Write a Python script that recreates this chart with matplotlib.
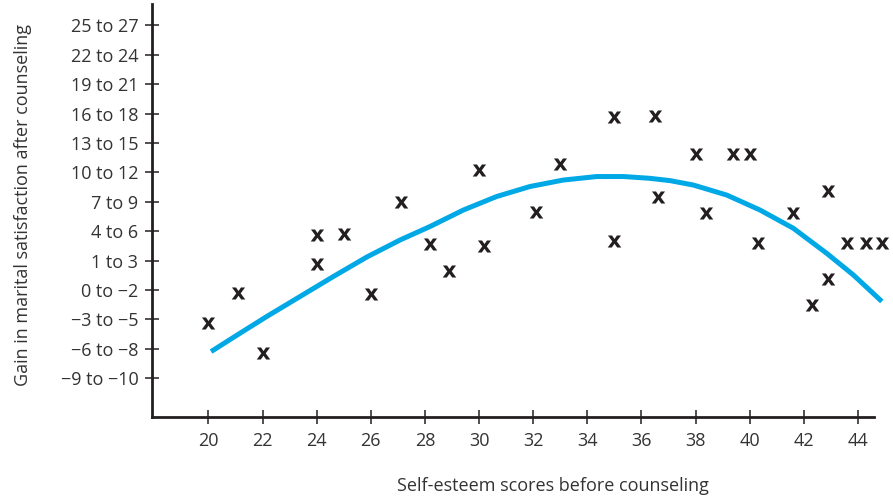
import matplotlib
matplotlib.use("Agg")
import matplotlib.pyplot as plt

# y categories (bottom -> top), plotted at positions 0..12
y_labels = ["\u22129 to \u221210", "\u22126 to \u22128", "\u22123 to \u22125", "0 to \u22122",
            "1 to 3", "4 to 6", "7 to 9", "10 to 12", "13 to 15", "16 to 18",
            "19 to 21", "22 to 24", "25 to 27"]
x_ticks = [20, 22, 24, 26, 28, 30, 32, 34, 36, 38, 40, 42, 44]

# scatter points (x score, y in category units)
pts_x = [20.0, 21.1, 22.0, 24.0, 25.0, 24.0, 26.0, 27.1, 28.2, 28.9, 30.0, 30.2,
         32.1, 33.0, 35.0, 36.5, 38.0, 39.4, 40.0, 36.6, 38.4, 35.0, 40.3, 41.6,
         42.9, 42.9, 42.3, 43.6, 44.3, 44.9]
pts_y = [1.87, 2.89, 0.85, 4.87, 4.90, 3.89, 2.87, 5.99, 4.56, 3.66, 7.09, 4.50,
         5.67, 7.29, 8.90, 8.92, 7.63, 7.63, 7.63, 6.16, 5.61, 4.65, 4.61, 5.61,
         6.38, 3.37, 2.49, 4.59, 4.59, 4.59]

# fitted curve
curve_x = [20.10, 21.17, 22.16, 23.39, 24.62, 25.85, 27.08, 28.19, 29.42, 30.65,
           31.88, 33.11, 34.35, 35.33, 36.3, 37.06, 37.92, 39.15, 40.38, 41.61,
           42.84, 43.83, 44.88]
curve_y = [0.905, 1.53, 2.10, 2.78, 3.46, 4.12, 4.70, 5.16, 5.72, 6.18,
           6.52, 6.74, 6.86, 6.86, 6.80, 6.72, 6.57, 6.23, 5.72, 5.10,
           4.25, 3.51, 2.61]

plt.rcParams["font.family"] = ["Open Sans", "DejaVu Sans"]

fig = plt.figure(figsize=(8.93, 4.98), dpi=100)
ax = fig.add_axes([0.1706, 0.1633, 0.8081, 0.8287])

ax.plot(curve_x, curve_y, color="#00A9E6", linewidth=3.6, solid_capstyle="butt",
        solid_joinstyle="round", clip_on=False, zorder=2)
ax.scatter(pts_x, pts_y, marker=r"$\mathbf{x}$", s=95, color="#231F20",
           linewidths=0, clip_on=False, zorder=3)

ax.set_xlim(17.93, 44.59)
ax.set_ylim(-1.31, 12.73)
ax.set_xticks(x_ticks)
ax.set_xticklabels([str(v) for v in x_ticks])
ax.set_yticks(range(len(y_labels)))
ax.set_yticklabels(y_labels)

for side in ("top", "right"):
    ax.spines[side].set_visible(False)
for side in ("left", "bottom"):
    ax.spines[side].set_linewidth(2.0)
    ax.spines[side].set_color("#231F20")

ax.tick_params(direction="inout", length=10, width=1.1, color="#231F20",
               labelsize=13, labelcolor="#333333")
ax.tick_params(axis="y", pad=5)
ax.tick_params(axis="x", pad=6)

ax.set_xlabel("Self-esteem scores before counseling", fontsize=13, color="#333333")
ax.set_ylabel("Gain in marital satisfaction after counseling", fontsize=13,
              color="#333333")
ax.xaxis.set_label_coords(0.555, -0.145)
ax.yaxis.set_label_coords(-0.167, 0.513)

fig.savefig("out.png", dpi=100)
